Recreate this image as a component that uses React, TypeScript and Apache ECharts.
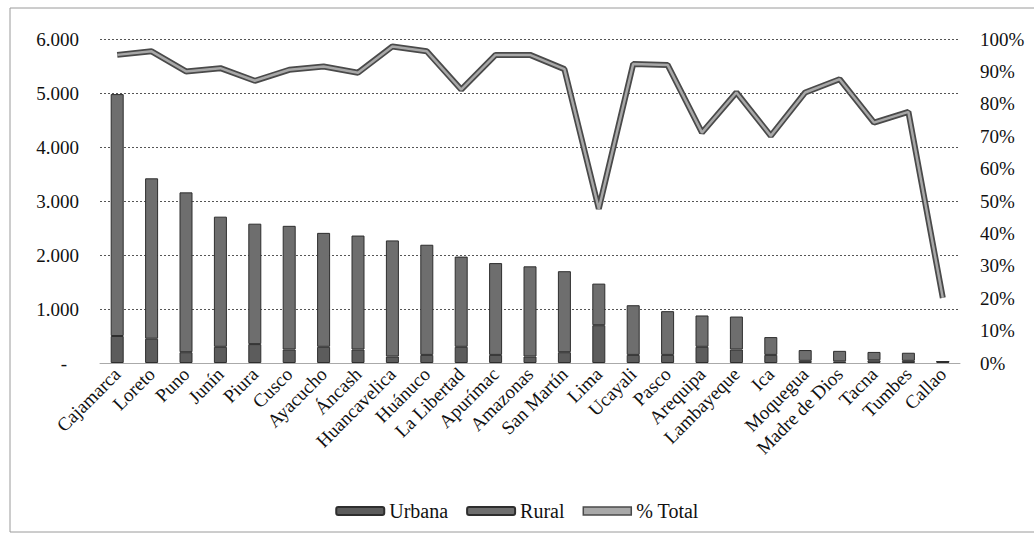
import React, { useEffect, useRef } from "react";
import * as echarts from "echarts";

const categories = [
  "Cajamarca", "Loreto", "Puno", "Junín", "Piura", "Cusco", "Ayacucho", "Áncash",
  "Huancavelica", "Huánuco", "La Libertad", "Apurímac", "Amazonas", "San Martín",
  "Lima", "Ucayali", "Pasco", "Arequipa", "Lambayeque", "Ica", "Moquegua",
  "Madre de Dios", "Tacna", "Tumbes", "Callao",
];

const urbana = [500, 450, 200, 300, 350, 250, 300, 250, 120, 150, 300, 150, 120, 200, 700, 150, 150, 300, 250, 150, 40, 30, 50, 40, 25];
const rural = [4480, 2970, 2960, 2410, 2230, 2290, 2110, 2110, 2150, 2040, 1670, 1700, 1670, 1500, 770, 920, 810, 580, 610, 330, 200, 195, 155, 150, 5];
const pctTotal = [0.951, 0.962, 0.9, 0.91, 0.871, 0.905, 0.915, 0.896, 0.977, 0.962, 0.844, 0.951, 0.951, 0.907, 0.476, 0.923, 0.92, 0.711, 0.835, 0.701, 0.835, 0.876, 0.742, 0.775, 0.201];

const leftTicks = { min: 0, max: 6000, interval: 1000 };
const rightTicks = { min: 0, max: 1, interval: 0.1 };

const FONT = "Liberation Serif";

export default function App() {
  const ref = useRef<HTMLDivElement>(null);
  useEffect(() => {
    if (!ref.current) return;
    const chart = echarts.init(ref.current, null, { renderer: "svg" });
    chart.setOption({
      animation: false,
      backgroundColor: "#ffffff",
      textStyle: { fontFamily: FONT, color: "#111" },
      graphic: [
        {
          type: "rect",
          shape: { x: 10, y: 8, width: 1040, height: 524 },
          style: { fill: "none", stroke: "#9a9a9a", lineWidth: 1 },
          silent: true,
        },
      ],
      grid: { left: 100, right: 74, top: 39, bottom: 183, containLabel: false },
      legend: {
        data: [
          { name: "Urbana" },
          { name: "Rural" },
          {
            name: "% Total",
            icon: "rect",
            itemStyle: { color: "#a8a8a8", borderColor: "#4a4a4a", borderWidth: 1.5 },
          },
        ],
        bottom: 20,
        left: "center",
        itemWidth: 48,
        itemHeight: 8,
        itemGap: 18,
        textStyle: { fontFamily: FONT, fontSize: 20, color: "#111" },
      },
      xAxis: {
        type: "category",
        data: categories,
        axisLine: { lineStyle: { color: "#aaaaaa", width: 1 } },
        axisTick: { show: false },
        axisLabel: {
          rotate: 45,
          interval: 0,
          margin: 8,
          fontFamily: FONT,
          fontSize: 19,
          color: "#111",
        },
      },
      yAxis: [
        {
          type: "value",
          ...leftTicks,
          axisLine: { show: false },
          axisTick: { show: false },
          splitLine: { lineStyle: { color: "#555", type: [2, 2], width: 1 } },
          axisLabel: {
            margin: 21,
            fontFamily: FONT,
            fontSize: 19,
            color: "#111",
            formatter: (v: number) =>
              v === 0 ? "{d|-}" : v.toLocaleString("en-US").replace(/,/g, "."),
            rich: { d: { fontFamily: FONT, fontSize: 19, padding: [0, 12, 0, 0] } },
          },
        },
        {
          type: "value",
          ...rightTicks,
          position: "right",
          axisLine: { show: false },
          axisTick: { show: false },
          splitLine: { show: false },
          axisLabel: {
            margin: 20,
            fontFamily: FONT,
            fontSize: 19,
            color: "#111",
            formatter: (v: number) => Math.round(v * 100) + "%",
          },
        },
      ],
      series: [
        {
          name: "Urbana",
          type: "bar",
          stack: "t",
          data: urbana,
          barWidth: 13,
          itemStyle: { color: "#5c5c5c", borderColor: "#2e2e2e", borderWidth: 1 },
        },
        {
          name: "Rural",
          type: "bar",
          stack: "t",
          data: rural,
          barWidth: 13,
          itemStyle: { color: "#6e6e6e", borderColor: "#2e2e2e", borderWidth: 1 },
        },
        {
          name: "% Total",
          type: "line",
          yAxisIndex: 1,
          data: pctTotal,
          symbol: "none",
          lineStyle: { color: "#4a4a4a", width: 6 },
          itemStyle: { color: "#a8a8a8" },
        },
        {
          name: "_inner",
          type: "line",
          yAxisIndex: 1,
          data: pctTotal,
          symbol: "none",
          silent: true,
          lineStyle: { color: "#a8a8a8", width: 2.5 },
        },
      ],
    });
    return () => chart.dispose();
  }, []);
  return (
    <div
      ref={ref}
      style={{ position: "absolute", left: 0, top: 0, width: 1034, height: 546 }}
    />
  );
}
